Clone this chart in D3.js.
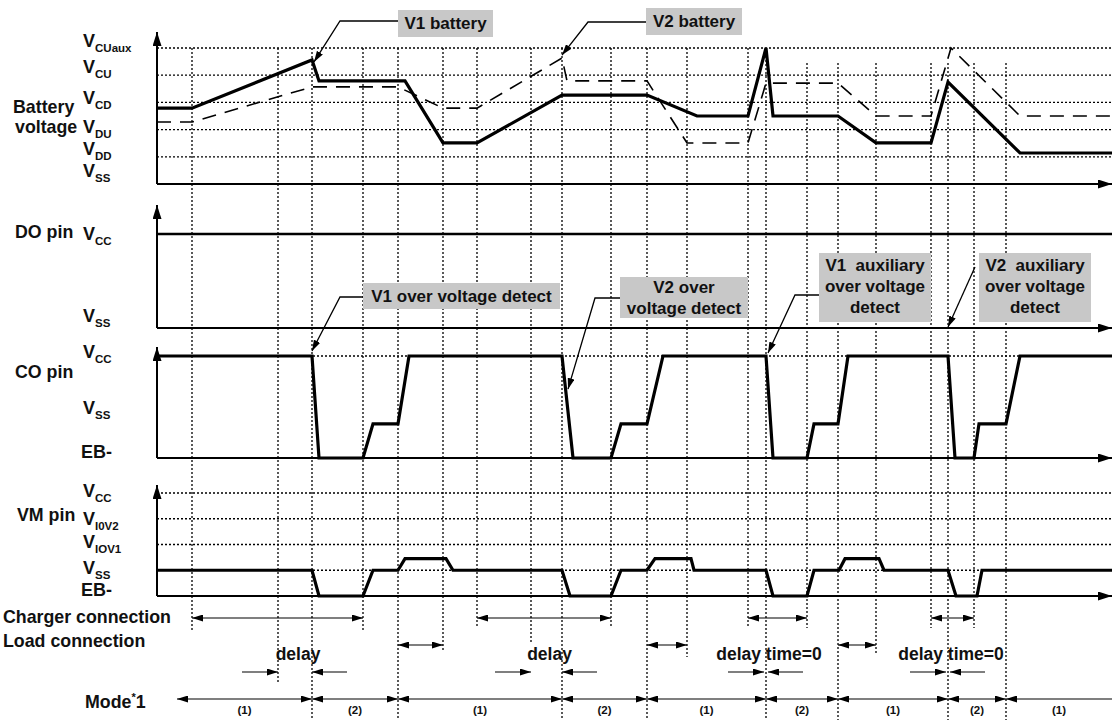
<!DOCTYPE html>
<html>
<head>
<meta charset="utf-8">
<script src="https://cdn.jsdelivr.net/npm/d3@7"></script>
<style>
body { margin: 0; background: #fff; }
text { font-family: "Liberation Sans", Arial, sans-serif; font-weight: bold; fill: #111; }
</style>
</head>
<body>
<svg width="1112" height="720"></svg>
<script>
// time is in arbitrary units (0 .. 191), levels are in "rows" of each panel
var eventTimes = [7, 24.2, 31, 41.2, 48.2, 57.2, 64, 74.8, 81, 90.8, 98, 106, 118.2, 121.8, 130, 136.2, 143.8, 154.8, 158.2, 163.4, 169.8];

// battery panel: VSS=0 VDD=1 VDU=2 VCD=3 VCU=4 VCUaux=5
var v1Battery = [[0,2.79],[7,2.79],[31,4.56],[32.4,3.79],[49.6,3.79],[57.2,1.51],[64,1.51],[81,3.27],[98,3.27],[108,2.5],[118.2,2.5],[121.8,5],[123.2,2.5],[136.2,2.5],[143.8,1.51],[154.8,1.51],[158.2,3.75],[172.6,1.14],[191,1.14]];
var v2Battery = [[0,2.28],[7,2.28],[31,3.57],[48.2,3.57],[57.2,2.79],[64,2.79],[81,4.63],[82,3.79],[98,3.79],[106,1.51],[118.2,1.51],[121.8,3.71],[136.2,3.71],[143.8,2.5],[154.8,2.5],[158.8,5],[172.6,2.5],[191,2.5]];
// DO pin: VSS=0 VCC=1
var doPin = [[0,1],[191,1]];
// CO pin: EB-=0 VSS=1 VCC=2
var coPin = [[0,2],[31,2],[32.4,0],[41.2,0],[43.2,0.67],[48.2,0.67],[50.4,2],[81,2],[83.2,0],[90.8,0],[92.8,0.67],[98,0.67],[101.2,2],[121.8,2],[123.2,0],[130,0],[131.4,0.67],[136.2,0.67],[138.2,2],[158.2,2],[159.6,0],[163.4,0],[164.4,0.67],[169.8,0.67],[172.6,2],[191,2]];
// VM pin: EB-=0 VSS=1 VIOV1=2 VI0V2=3 VCC=4
var vmPin = [[0,1],[31,1],[32.4,0],[41.2,0],[43.2,1],[48.2,1],[49.6,1.45],[57.8,1.45],[59.2,1],[81,1],[82.6,0],[90.8,0],[92.8,1],[98,1],[99.6,1.45],[106.8,1.45],[107.4,1],[121.8,1],[123.2,0],[130,0],[131.4,1],[136.4,1],[137.6,1.45],[144.4,1.45],[145.4,1],[158.2,1],[159.8,0],[164,0],[165,1],[191,1]];

// tick labels: [main, subscript, level]
var batLabels = [['V','CUaux',5],['V','CU',4],['V','CD',3],['V','DU',2],['V','DD',1],['V','SS',0]];
var doLabels = [['V','CC',1],['V','SS',0]];
var coLabels = [['V','CC',2],['V','SS',1],['EB-','',0]];
var vmLabels = [['V','CC',4],['V','I0V2',3],['V','IOV1',2],['V','SS',1],['EB-','',0]];

var chargerSpans = [[7,41.2],[64,90.8],[118.2,130],[154.8,163.4]];
var loadSpans = [[48.2,57.2],[98,106],[136.2,143.8]];
var delays = [[24.2,31,'delay'],[74.8,81,'delay'],[121.8,121.8,'delay time=0'],[158.2,158.2,'delay time=0']];
var modeBounds = [4, 31, 48.2, 81, 98, 121.8, 136.2, 158.2, 169.8, 191];
var modeNames = ['(1)','(2)','(1)','(2)','(1)','(2)','(1)','(2)','(1)'];

var svg = d3.select('svg');
var x = d3.scaleLinear().domain([0, 191]).range([157, 1112]);
var yBat = d3.scaleLinear().domain([0, 5]).range([184, 48]);
var yDo = d3.scaleLinear().domain([0, 1]).range([328, 234]);
var yCo = d3.scaleLinear().domain([0, 2]).range([458, 356]);
var yVm = d3.scaleLinear().domain([0, 4]).range([596, 493]);

// arrow heads
var defs = svg.append('defs');
function marker(id, len, wid) {
    defs.append('marker').attr('id', id)
        .attr('viewBox', '0 0 ' + len + ' ' + wid)
        .attr('refX', len).attr('refY', wid / 2)
        .attr('markerWidth', len).attr('markerHeight', wid)
        .attr('markerUnits', 'userSpaceOnUse')
        .attr('orient', 'auto-start-reverse')
        .append('path').attr('d', 'M0,0L' + len + ',' + wid / 2 + 'L0,' + wid + 'Z').attr('fill', '#000');
}
marker('axArrow', 14, 9);
marker('arr', 11, 7);

var dotted = '2,2';

// horizontal dotted grid lines
function grid(scale, levels) {
    svg.append('g').selectAll('line').data(levels).enter().append('line')
        .attr('x1', x(0)).attr('x2', x(191))
        .attr('y1', d => scale(d)).attr('y2', d => scale(d))
        .attr('stroke', '#000').attr('stroke-width', 1.3).attr('stroke-dasharray', dotted);
}
grid(yBat, [1, 2, 3, 4, 5]);
grid(yCo, [2]);
grid(yVm, [1, 2, 3, 4]);

// vertical event lines
var eventTop = [48,48,48,48,48,48,48,48,48,48,48,48,48,48,63,63,63,63,63,63,63];
var eventBottom = [632,683,720,632,720,650,628,643,720,628,720,657,628,720,628,720,655,628,720,628,720];
svg.append('g').selectAll('line').data(eventTimes).enter().append('line')
    .attr('x1', d => x(d)).attr('x2', d => x(d))
    .attr('y1', (d, i) => eventTop[i]).attr('y2', (d, i) => eventBottom[i])
    .attr('stroke', '#000').attr('stroke-width', 1.3).attr('stroke-dasharray', dotted);

// axes
function axes(scale, top) {
    svg.append('line').attr('x1', x(0)).attr('x2', x(0)).attr('y1', scale(0)).attr('y2', top)
        .attr('stroke', '#000').attr('stroke-width', 2).attr('marker-end', 'url(#axArrow)');
    svg.append('line').attr('x1', x(0)).attr('x2', x(191)).attr('y1', scale(0)).attr('y2', scale(0))
        .attr('stroke', '#000').attr('stroke-width', 2).attr('marker-end', 'url(#axArrow)');
}
axes(yBat, 32);
axes(yDo, 205);
axes(yCo, 347);
axes(yVm, 485);

// waveforms
var line = (scale) => d3.line().x(d => x(d[0])).y(d => scale(d[1]));
svg.append('path').datum(v2Battery).attr('d', line(yBat))
    .attr('fill', 'none').attr('stroke', '#000').attr('stroke-width', 1.6).attr('stroke-dasharray', '14,9');
svg.append('path').datum(v1Battery).attr('d', line(yBat))
    .attr('fill', 'none').attr('stroke', '#000').attr('stroke-width', 3.2).attr('stroke-linejoin', 'miter');
svg.append('path').datum(doPin).attr('d', line(yDo))
    .attr('fill', 'none').attr('stroke', '#000').attr('stroke-width', 2.5);
svg.append('path').datum(coPin).attr('d', line(yCo))
    .attr('fill', 'none').attr('stroke', '#000').attr('stroke-width', 3.2);
svg.append('path').datum(vmPin).attr('d', line(yVm))
    .attr('fill', 'none').attr('stroke', '#000').attr('stroke-width', 3.2);

// level labels
function levelLabels(scale, labels, dys) {
    labels.forEach((l, i) => {
        var t = svg.append('text').attr('x', l[0] === 'V' ? 83 : 81).attr('y', scale(l[2]) + dys[i])
            .style('font-size', '18px');
        t.append('tspan').text(l[0]);
        if (l[1]) t.append('tspan').attr('dy', 5).style('font-size', '11.5px').text(l[1]);
    });
}
levelLabels(yBat, batLabels, [-1, -2, 2, 3, -2, -7]);
levelLabels(yDo, doLabels, [6, -6]);
levelLabels(yCo, coLabels, [2, 7, 0]);
levelLabels(yVm, vmLabels, [4, 6, 3, 4, 0]);

// row titles
var titles = [['Battery', 13, 113], ['voltage', 15, 133], ['DO pin', 15, 238], ['CO pin', 15, 378],
              ['VM pin', 17, 521], ['Charger connection', 3, 623], ['Load connection', 3, 647]];
svg.selectAll('.title').data(titles).enter().append('text').attr('class', 'title')
    .attr('x', d => d[1]).attr('y', d => d[2]).style('font-size', '17.8px').text(d => d[0]);
var mode = svg.append('text').attr('x', 85).attr('y', 708).style('font-size', '17.8px');
mode.append('tspan').text('Mode');
mode.append('tspan').attr('dy', -7).style('font-size', '11px').text('*');
mode.append('tspan').attr('dy', 7).text('1');

// double arrows for charger / load connection
function spanArrows(spans, y) {
    svg.append('g').selectAll('line').data(spans).enter().append('line')
        .attr('x1', d => x(d[0])).attr('x2', d => x(d[1])).attr('y1', y).attr('y2', y)
        .attr('stroke', '#000').attr('stroke-width', 1.2)
        .attr('marker-start', 'url(#arr)').attr('marker-end', 'url(#arr)');
}
spanArrows(chargerSpans, 618);
spanArrows(loadSpans, 645);

// delay markers
delays.forEach(d => {
    var a = x(d[0]), b = x(d[1]);
    if (d[0] === d[1]) { a -= 2; b += 2; }
    svg.append('line').attr('x1', a - 36).attr('x2', a).attr('y1', 672).attr('y2', 672)
        .attr('stroke', '#000').attr('stroke-width', 1.2).attr('marker-end', 'url(#arr)');
    svg.append('line').attr('x1', b + 35).attr('x2', b).attr('y1', 672).attr('y2', 672)
        .attr('stroke', '#000').attr('stroke-width', 1.2).attr('marker-end', 'url(#arr)');
    svg.append('text').attr('x', (a + b) / 2 + 3).attr('y', 660).attr('text-anchor', 'middle')
        .style('font-size', '17.5px').text(d[2]);
});

// mode row
var modeSpans = modeNames.map((n, i) => [modeBounds[i], modeBounds[i + 1], n]);
svg.append('g').selectAll('line').data(modeSpans).enter().append('line')
    .attr('x1', d => x(d[0])).attr('x2', d => x(d[1])).attr('y1', 699).attr('y2', 699)
    .attr('stroke', '#000').attr('stroke-width', 1.2)
    .attr('marker-start', 'url(#arr)')
    .attr('marker-end', (d, i) => i < modeSpans.length - 1 ? 'url(#arr)' : null);
svg.append('g').selectAll('text').data(modeSpans).enter().append('text')
    .attr('x', d => (x(d[0]) + x(d[1])) / 2).attr('y', 714).attr('text-anchor', 'middle')
    .style('font-size', '11.5px').text(d => d[2]);

// callout boxes with leader arrows
var callouts = [
    {lines: ['V1 battery'], box: [398, 10, 95, 27], base: 29, elbow: [[398, 21], [340, 21]], tip: [x(31) + 2, yBat(4.56) + 2]},
    {lines: ['V2 battery'], box: [646, 8, 96, 27], base: 27, elbow: [[646, 22], [588, 22]], tip: [x(81), yBat(4.63) - 3]},
    {lines: ['V1 over voltage detect'], box: [363, 283, 197, 26], base: 302, elbow: [[363, 297], [340, 297]], tip: [x(31), yCo(2) - 5]},
    {lines: ['V2 over', 'voltage detect'], box: [620, 277, 128, 41], base: 293, elbow: [[620, 298], [595, 298]], tip: [x(82.2), yCo(1.35)]},
    {lines: ['V1  auxiliary', 'over voltage', 'detect'], box: [819, 253, 112, 69], base: 271, elbow: [[819, 295], [795, 295]], tip: [x(121.8) + 2, yCo(2) - 3]},
    {lines: ['V2  auxiliary', 'over voltage', 'detect'], box: [979, 253, 112, 69], base: 271, elbow: [[975, 267]], tip: [x(158.2), yDo(0) - 1]}
];
callouts.forEach(c => {
    svg.append('rect').attr('x', c.box[0]).attr('y', c.box[1]).attr('width', c.box[2]).attr('height', c.box[3])
        .attr('fill', '#c8c8c8');
    c.lines.forEach((t, i) => {
        svg.append('text').attr('x', c.box[0] + c.box[2] / 2).attr('y', c.base + i * 21)
            .attr('text-anchor', 'middle').style('font-size', '17px').style('white-space', 'pre')
            .text(t);
    });
    svg.append('path').attr('d', d3.line()(c.elbow.concat([c.tip])))
        .attr('fill', 'none').attr('stroke', '#000').attr('stroke-width', 1.3)
        .attr('marker-end', 'url(#arr)');
});
</script>
</body>
</html>
